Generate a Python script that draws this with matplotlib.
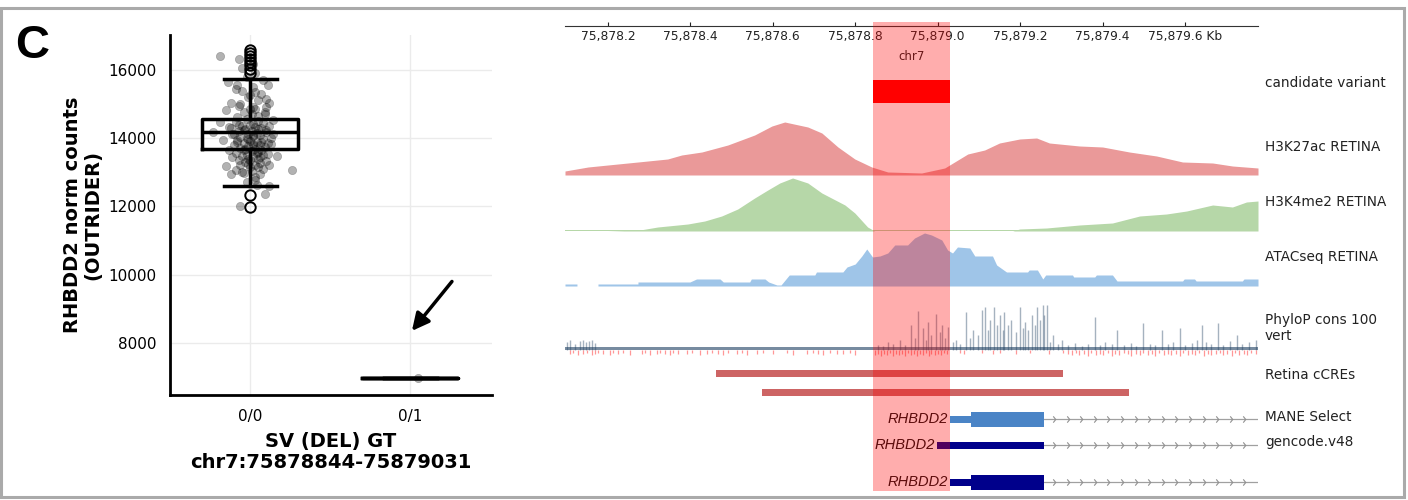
import numpy as np
import matplotlib.pyplot as plt
from matplotlib.patches import Rectangle
from matplotlib.path import Path

W, H = 1408, 500

# ---------------- expression by SV genotype ----------------
genotypes = ['0/0', '0/1']

ref_counts = [16412, 16314, 16167, 16049, 15902, 15637, 15578, 15578, 15382, 15363,
              15265, 15167, 15049, 15020, 14921, 14921, 14824, 14863, 14725, 14529,
              14480, 14333, 14382, 14431, 14284, 14235, 14186, 14137, 14235, 14088,
              14137, 13941, 13892, 13990, 13892, 13843, 13794, 13647, 13647, 13598,
              13549, 13451, 13402, 13451, 13471, 13176, 13206, 13157, 13157, 13206,
              13059, 12941, 13010, 12863, 12638, 12608, 12353, 12000,
              14560, 14510, 14470, 14440, 14400, 14370, 14360, 14330, 14300, 14290,
              14260, 14220, 14200, 14190, 14160, 14140, 14120, 14100, 14060, 14040,
              14020, 14000, 13970, 13950, 13930, 13900, 13870, 13860, 13830, 13810,
              13790, 13760, 13740, 13720, 13700, 13680, 13660, 13620, 13580, 13560,
              13520, 13500, 13480, 13440, 13400, 13370, 13350, 13320, 13300, 13280,
              13250, 13220, 13100, 13080, 13030, 12980, 12950, 12780, 12720, 14650,
              14620, 14700, 14780, 14760, 14850, 14950, 15050, 15120, 15200, 15300,
              15450, 15500, 15700, 15800]
ref_jitter = [-0.19, -0.07, 0.02, -0.05, 0.03, -0.14, -0.08, 0.11, -0.05, 0.03,
              0.00, 0.10, -0.12, -0.06, 0.02, 0.10, -0.15, 0.00, 0.09, 0.14,
              -0.19, -0.13, -0.07, 0.02, 0.05, 0.10, -0.23, -0.11, -0.04, 0.02,
              0.14, -0.17, -0.08, -0.01, 0.07, 0.13, 0.02, -0.13, -0.04, 0.05,
              0.11, -0.11, -0.01, 0.06, 0.17, -0.15, -0.06, 0.00, 0.05, 0.12,
              0.26, -0.12, -0.05, 0.03, 0.04, 0.12, 0.09, -0.06,
              -0.02, 0.05, -0.09, 0.08, 0.00, -0.05, 0.12, 0.03, -0.12, 0.07,
              -0.03, 0.01, -0.07, 0.10, 0.04, -0.01, -0.10, 0.06, 0.02, -0.06,
              0.13, -0.02, 0.08, -0.08, 0.00, 0.04, -0.04, 0.11, 0.02, -0.10,
              0.06, -0.01, 0.09, -0.06, 0.03, -0.03, 0.07, 0.01, -0.09, 0.04,
              -0.02, 0.08, -0.05, 0.02, 0.05, -0.07, 0.00, 0.10, -0.03, 0.06,
              -0.01, 0.03, 0.08, -0.09, 0.01, -0.04, 0.06, 0.03, -0.02, 0.05,
              -0.08, 0.01, 0.09, -0.04, 0.03, -0.07, 0.12, 0.05, -0.01, 0.07,
              -0.09, 0.02, 0.08, -0.02]
het_counts = [6970]
het_jitter = [0.05]

# whislo, q1, median, q3, whishi
ref_stats = [12588, 13697, 14197, 14568, 15735]
ref_fliers = [11980, 12324, 15910, 16030, 16150, 16240, 16320, 16410, 16500, 16590]
het_stats = [6970, 6970, 6970, 6970, 6970]
het_fliers = []

# ---------------- genome browser region ----------------
region_start, region_end = 75878096, 75879777
variant = [75878844, 75879031]
scale_ticks = [75878200, 75878400, 75878600, 75878800, 75879000, 75879200, 75879400, 75879600]

h3k27ac_pos = [75878096, 75878152, 75878200, 75878273, 75878345, 75878379, 75878428,
               75878491, 75878556, 75878598, 75878629, 75878685, 75878719, 75878758,
               75878799, 75878840, 75878879, 75878961, 75879017, 75879041, 75879073,
               75879114, 75879150, 75879199, 75879240, 75879271, 75879344, 75879400,
               75879465, 75879531, 75879594, 75879667, 75879715, 75879777]
h3k27ac_val = [4, 8, 10, 13, 16, 20, 23, 30, 40, 49, 53, 48, 42, 28, 16, 8, 3, 2, 7, 13,
               21, 25, 32, 36, 37, 32, 29, 28, 23, 19, 13, 12, 9, 7]

h3k4me2_pos = [75878096, 75878200, 75878278, 75878321, 75878394, 75878435, 75878476,
               75878515, 75878556, 75878588, 75878617, 75878648, 75878685, 75878719,
               75878775, 75878799, 75878830, 75878847, 75879053, 75879182, 75879199,
               75879264, 75879344, 75879424, 75879490, 75879555, 75879604, 75879667,
               75879715, 75879749, 75879777]
h3k4me2_val = [0, 0, 1, 4, 7, 10, 15, 22, 33, 41, 48, 53, 48, 38, 26, 18, 4, 0, 0, 0, 2,
               3, 6, 8, 15, 17, 20, 26, 24, 29, 30]

atac_pos = [75878096, 75878125, 75878125, 75878176, 75878176, 75878273, 75878273,
            75878399, 75878415, 75878472, 75878480, 75878544, 75878548, 75878581,
            75878590, 75878610, 75878620, 75878640, 75878702, 75878706, 75878770,
            75878780, 75878800, 75878816, 75878828, 75878842, 75878860, 75878879,
            75878896, 75878927, 75878944, 75878968, 75878985, 75879010, 75879024,
            75879036, 75879048, 75879078, 75879090, 75879133, 75879143, 75879167,
            75879218, 75879222, 75879242, 75879255, 75879262, 75879327, 75879330,
            75879381, 75879385, 75879424, 75879435, 75879594, 75879598, 75879623,
            75879627, 75879739, 75879743, 75879777]
atac_val = [2, 2, 0, 0, 2, 2, 4, 4, 7, 7, 4, 4, 7, 7, 4, 1, 1, 11, 11, 14, 14, 19, 22,
            30, 37, 29, 30, 33, 41, 41, 48, 53, 51, 46, 36, 33, 39, 38, 30, 30, 21, 14,
            14, 16, 16, 7, 11, 11, 9, 9, 11, 11, 5, 5, 7, 7, 5, 5, 7, 7]

phylop_pos = [75878101, 75878108, 75878120, 75878132, 75878139, 75878147, 75878154,
              75878161, 75878168,
              75878855, 75878867, 75878879, 75878891, 75878908, 75878920, 75878935,
              75878944, 75878952, 75878964, 75878971, 75878976, 75878985, 75878995,
              75879005, 75879010, 75879017, 75879024,
              75879036, 75879044, 75879053, 75879068, 75879078, 75879085, 75879097,
              75879107, 75879114, 75879121, 75879128, 75879136, 75879143, 75879150,
              75879158, 75879162, 75879170, 75879179, 75879189, 75879199, 75879206,
              75879211, 75879218, 75879228, 75879235, 75879240, 75879247, 75879255,
              75879259, 75879264, 75879272, 75879279, 75879291, 75879301, 75879315,
              75879332, 75879349, 75879364, 75879381, 75879393, 75879407, 75879422,
              75879436, 75879453, 75879468, 75879482, 75879497, 75879514, 75879528,
              75879543, 75879558, 75879572, 75879587, 75879601, 75879616, 75879628,
              75879640, 75879652, 75879664, 75879679, 75879693, 75879708, 75879725,
              75879739, 75879756, 75879773]
phylop_val = [8, 10, 6, 9, 10, 8, 9, 10, 7,
              5, 4, 8, 6, 10, 5, 25, 12, 39, 22, 10, 28, 15, 36, 18, 25, 12, 23,
              8, 10, 6, 38, 12, 20, 15, 40, 43, 20, 30, 43, 25, 35, 20, 38, 25, 30,
              18, 43, 22, 28, 20, 35, 25, 43, 30, 45, 35, 45, 8, 15, 6, 10, 5, 7, 4,
              6, 33, 5, 8, 6, 20, 5, 7, 4, 27, 6, 5, 20, 6, 8, 22, 5, 7, 10, 25, 8,
              6, 27, 5, 9, 15, 6, 8, 10]
phylop_floor = 2.5

phylop_neg_pos = [75878108, 75878115, 75878127, 75878139, 75878149, 75878161, 75878168,
                  75878176, 75878188, 75878205, 75878212, 75878224, 75878236, 75878253,
                  75878282, 75878290, 75878302, 75878319, 75878326, 75878338, 75878350,
                  75878358, 75878370, 75878392, 75878404, 75878423, 75878440, 75878452,
                  75878467, 75878479, 75878491, 75878513, 75878525, 75878537, 75878561,
                  75878576, 75878600, 75878634, 75878648, 75878682, 75878697, 75878709,
                  75878721, 75878738, 75878755, 75878770, 75878787, 75878799,
                  75878847, 75878855, 75878862, 75878869, 75878876, 75878884, 75878891,
                  75878898, 75878905, 75878913, 75878920, 75878927, 75878935, 75878942,
                  75878949, 75878956, 75878964, 75878971, 75878978, 75878985, 75878993,
                  75879000, 75879007, 75879015, 75879022,
                  75879053, 75879065, 75879107, 75879133, 75879150, 75879191, 75879223,
                  75879271, 75879303,
                  75879315, 75879325, 75879335, 75879344, 75879354, 75879364, 75879373,
                  75879383, 75879393, 75879402, 75879412, 75879422, 75879431, 75879441,
                  75879451, 75879461, 75879470, 75879480, 75879490, 75879499, 75879509,
                  75879519, 75879528, 75879538, 75879548, 75879558, 75879567, 75879577,
                  75879587, 75879596, 75879606, 75879616, 75879625, 75879635, 75879645,
                  75879655, 75879664, 75879674, 75879684, 75879693, 75879703, 75879713,
                  75879722, 75879732, 75879742, 75879751, 75879761, 75879771]
phylop_neg_val = [4, 3, 5, 4, 3, 5, 4, 3, 4, 5, 3, 4, 3, 5,
                  4, 3, 5, 4, 3, 4, 5, 3, 4, 4, 3, 5, 4, 3,
                  4, 5, 3, 4, 3, 5, 4, 3, 4, 3, 5, 4, 3, 4,
                  5, 3, 4, 4, 3, 5,
                  5, 4, 6, 4, 5, 3, 6, 4, 5, 4, 6, 3, 5, 4,
                  6, 4, 5, 3, 6, 4, 5, 4, 5, 3, 4,
                  3, 4, 3, 4, 3, 4, 3, 4, 3,
                  4, 5, 3, 5, 4, 6, 3, 5, 4, 5, 3, 6, 4, 5,
                  3, 4, 6, 4, 5, 3, 5, 4, 6, 3, 5, 4, 5, 4,
                  6, 3, 5, 4, 5, 3, 6, 4, 5, 4, 3, 5, 4, 6,
                  3, 5, 4, 5, 3, 4]

ccre_start = [75878462, 75878573]
ccre_end = [75879303, 75879463]

# gene models: transcript start, coding start, first exon end (transcripts run past the view)
gene_names = ['RHBDD2', 'RHBDD2', 'RHBDD2']
gene_tx_start = [75879031, 75878998, 75879031]
gene_cds_start = [75879082, 75879257, 75879082]
gene_exon_end = [75879257, 75879257, 75879257]
gene_colors = ['#4a84c6', '#00008b', '#00008b']

track_labels = ['candidate variant', 'H3K27ac RETINA', 'H3K4me2 RETINA', 'ATACseq RETINA',
                'PhyloP cons 100\nvert', 'Retina cCREs', 'MANE Select', 'gencode.v48']


def px(x0, y0, x1, y1):
    return [x0 / W, 1 - y1 / H, (x1 - x0) / W, (y1 - y0) / H]


fig = plt.figure(figsize=(W / 100, H / 100), dpi=100)

# ---------------- left: boxplot + strip ----------------
ax = fig.add_axes(px(170, 35, 492, 395))
stats = []
for name, s, fl in zip(genotypes, [ref_stats, het_stats], [ref_fliers, het_fliers]):
    stats.append(dict(label=name, whislo=s[0], q1=s[1], med=s[2], q3=s[3],
                      whishi=s[4], fliers=fl))
line = dict(color='black', linewidth=2.5)
ax.bxp(stats, positions=[0, 1], widths=0.6, capwidths=0.33, boxprops=line,
       whiskerprops=line, capprops=line, medianprops=line,
       flierprops=dict(marker='o', markerfacecolor='none', markeredgecolor='black',
                       markersize=7.5, markeredgewidth=1.4),
       manage_ticks=False)
ax.scatter(np.array(ref_jitter), ref_counts, s=36, color='black', alpha=0.3,
           linewidths=0.4, zorder=3)
ax.scatter(1 + np.array(het_jitter), het_counts, s=36, color='black', alpha=0.3,
           linewidths=0.4, zorder=3)

ax.set_xlim(-0.5, 1.51)
ax.set_ylim(6470, 17030)
ax.set_xticks([0, 1])
ax.set_xticklabels(genotypes)
ax.set_yticks([8000, 10000, 12000, 14000, 16000])
ax.grid(True, color='#ebebeb', linewidth=1)
ax.set_axisbelow(True)
for s in ['top', 'right']:
    ax.spines[s].set_visible(False)
for s in ['left', 'bottom']:
    ax.spines[s].set_linewidth(2)
ax.tick_params(length=0, pad=10, labelsize=11)
ax.set_ylabel('RHBDD2 norm counts\n(OUTRIDER)', fontsize=14, fontweight='bold',
              linespacing=1.1, labelpad=4)
ax.set_xlabel('SV (DEL) GT\nchr7:75878844-75879031', fontsize=14, fontweight='bold',
              linespacing=1.1, labelpad=6)
ax.annotate('', xy=(1.01, 8350), xytext=(1.26, 9800),
            arrowprops=dict(arrowstyle='-|>', color='black', lw=2.5,
                            mutation_scale=26, shrinkA=0, shrinkB=0))

fig.text(15 / W, 1 - 46 / H, 'C', fontsize=34, fontweight='bold',
         family='Liberation Sans', va='center', ha='left')

# ---------------- right: genome tracks ----------------
X0, X1 = 565, 1258


def track(y0, y1):
    t = fig.add_axes(px(X0, y0, X1, y1))
    t.set_xlim(region_start, region_end)
    t.axis('off')
    return t


# coordinate axis
sc = fig.add_axes(px(X0, 10, X1, 26))
sc.set_xlim(region_start, region_end)
sc.set_ylim(0, 1)
sc.patch.set_alpha(0)
for s in ['top', 'left', 'right']:
    sc.spines[s].set_visible(False)
sc.spines['bottom'].set_linewidth(0.8)
sc.spines['bottom'].set_color('#333333')
sc.set_yticks([])
sc.set_xticks(scale_ticks)
sc.set_xticklabels([f'{t / 1000:,.1f}' for t in scale_ticks[:-1]]
                   + [f'{scale_ticks[-1] / 1000:,.1f} Kb'])
sc.tick_params(axis='x', direction='in', length=3, width=0.8, pad=3, labelsize=8.8,
               colors='#222222')
fig.text((X0 + X1) / 2 / W, 1 - 57 / H, 'chr7', fontsize=8.5, ha='center', va='center',
         color='#222222')

# candidate variant
cv = track(80, 103)
cv.set_ylim(0, 1)
cv.barh(0.5, variant[1] - variant[0], left=variant[0], height=1, color='#ff0000', lw=0)

# signal tracks
t1 = track(110, 175)
t1.set_ylim(0, 65)
t1.fill_between(h3k27ac_pos, h3k27ac_val, color='#ea9999', lw=0)

t2 = track(176, 231)
t2.set_ylim(0, 55)
t2.fill_between(h3k4me2_pos, h3k4me2_val, color='#b6d7a8', lw=0)
t2.fill_between([region_start, region_end], [0.6, 0.6], color='#b6d7a8', lw=0)

t3 = track(231, 286)
t3.set_ylim(0, 55)
t3.fill_between(atac_pos, atac_val, color='#9fc5e8', lw=0)

# conservation
t4 = track(295, 358)
t4.set_ylim(-8, 55)
t4.fill_between([region_start, region_end], [phylop_floor, phylop_floor],
                color='#3d5a78', alpha=0.7, lw=0)
t4.vlines(phylop_pos, 0, phylop_val, color='#1f3f60', alpha=0.4, lw=1)
t4.vlines(phylop_neg_pos, 0, -np.array(phylop_neg_val), color='#ff3030', alpha=0.5,
          lw=0.9)

# cCREs
t5 = track(364, 402)
t5.set_ylim(2, 0)
t5.barh([0.5, 1.5], np.array(ccre_end) - np.array(ccre_start), left=ccre_start,
        height=0.37, color='#cd6464', lw=0)

# gene models
gx = track(405, 492)
gx.set_ylim(87, 0)
rows = [14, 40, 77]
chevron = Path([(-0.4, -1), (0.4, 0), (-0.4, 1)], [Path.MOVETO, Path.LINETO, Path.LINETO])
step = 33
for r, name, tx0, cds0, ex1, col in zip(rows, gene_names, gene_tx_start, gene_cds_start,
                                         gene_exon_end, gene_colors):
    intron_x = np.arange(ex1 + 25, region_end, step)
    gx.plot([ex1, region_end], [r, r], color='#a0a0a0', lw=0.9, zorder=1)
    gx.plot(intron_x, np.full(len(intron_x), r), ls='none', marker=chevron, ms=4.5,
            mfc='none', mec='#909090', mew=0.8, zorder=1)
    gx.add_patch(Rectangle((tx0, r - 3.5), cds0 - tx0, 7, color=col, lw=0, zorder=2))
    if ex1 > cds0:
        gx.add_patch(Rectangle((cds0, r - 7.5), ex1 - cds0, 15, color=col, lw=0,
                               zorder=2))
    gx.text(tx0 - 5, r, name, ha='right', va='center', style='italic', fontsize=10.5,
            family='Liberation Sans', color='#111111')

# highlight of the deleted interval, on top of all tracks
ov = fig.add_axes(px(X0, 22, X1, 491))
ov.set_xlim(region_start, region_end)
ov.axvspan(variant[0], variant[1], color='red', alpha=0.32, lw=0)
ov.axis('off')
ov.set_zorder(10)

label_y = [83, 147, 202, 257, 328, 375, 417, 442]
for lab, y in zip(track_labels, label_y):
    fig.text(1265 / W, 1 - y / H, lab, fontsize=9.8, va='center', ha='left',
             color='#222222', linespacing=1.15)

# outer frame
fig.add_artist(Rectangle((1 / W, 3.5 / H), 1403 / W, 489 / H, transform=fig.transFigure,
                         fill=False, ec='#aaaaaa', lw=2.2))

fig.savefig('out.png', dpi=100)
